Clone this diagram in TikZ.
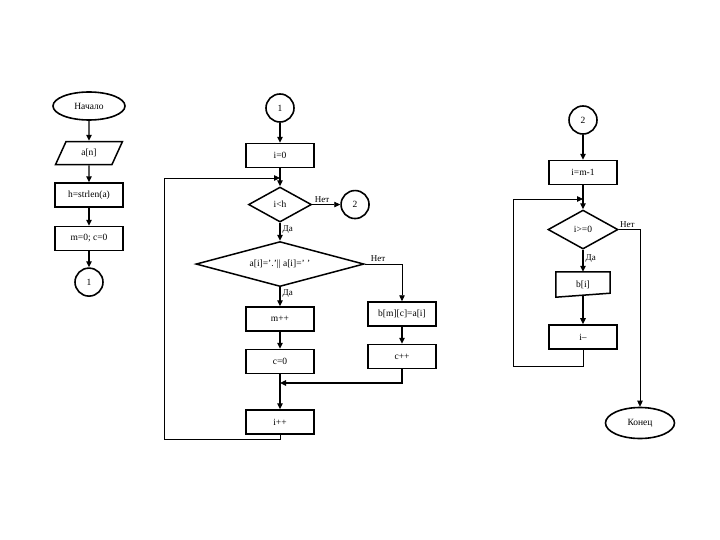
\documentclass[tikz,border=0pt]{standalone}
\usepackage{fontspec}
\setmainfont{Liberation Serif}
\usetikzlibrary{arrows.meta, positioning, shapes.geometric}

\begin{document}
\begin{tikzpicture}[
    x=1pt, y=-1pt,
    font=\fontsize{9.5}{11}\selectfont,
    term/.style={ellipse, draw, line width=1.6pt, minimum width=72pt, minimum height=28pt, inner sep=0pt},
    io/.style={trapezium, trapezium left angle=66, trapezium right angle=114, trapezium stretches=true,
               draw, line width=1.5pt, minimum width=67pt, minimum height=23pt, inner sep=0pt},
    proc/.style={rectangle, draw, line width=1.5pt, minimum width=68pt, minimum height=24pt},
    test/.style={diamond, aspect=1.8, draw, line width=1.5pt, minimum width=63pt, minimum height=35pt, inner sep=0pt},
    conn/.style={circle, draw, line width=1.6pt, minimum size=28pt, inner sep=0pt},
    docbox/.style={rectangle, minimum width=54pt, minimum height=25pt},
    arr/.style={-{Triangle[length=6pt, width=5.5pt]}, line width=1.3pt},
    flow/.style={-{Triangle[length=6pt, width=5.5pt]}, line width=0.8pt},
    lbl/.style={font=\fontsize{9}{10}\selectfont, inner sep=2pt},
]
\useasboundingbox (0,0) rectangle (720,540);

% first part
\node[term] (start) at (89,106) {Начало};
\node[io, below=20pt of start] (inA) {a[n]};
\node[proc, below=17pt of inA] (strlen) {h=strlen(a)};
\node[proc, below=18pt of strlen] (init) {m=0; c=0};
\node[conn, below=16pt of init] (conA) {1};

\foreach \a/\b in {start/inA, inA/strlen, strlen/init, init/conA}
    \draw[arr] (\a) -- (\b);

% second part
\node[conn] (conB) at (280,108) {1};
\node[proc, below=20pt of conB] (setI) {i=0};
\node[test, below=18pt of setI] (testI) {i<h};
\node[conn, right=28pt of testI] (conC) {2};
\node[test, below=18pt of testI, aspect=3.7, minimum width=168pt, minimum height=45pt] (testA) {a[i]=’.’|| a[i]=’ ’};
\node[proc, below=19pt of testA] (incM) {m++};
\node[proc, below=17pt of incM] (setC) {c=0};
\node[proc, below=35pt of setC] (incJ) {i++};
\node[proc] (store) at (402,314) {b[m][c]=a[i]};
\node[proc, below=17pt of store] (incC) {c++};

\coordinate (loopB) at (280,178);
\coordinate (backB) at (164,439);
\coordinate (join) at (280,383);

\foreach \a/\b in {conB/setI, setI/testI, incM/setC, setC/incJ, store/incC}
    \draw[arr] (\a) -- (\b);
\draw[flow] (testI) -- node[lbl, above, pos=0.35] {Нет} (conC);
\draw[arr] (testI) -- node[lbl, right, pos=0.4] {Да} (testA);
\draw[arr] (testA) -- node[lbl, right, pos=0.35] {Да} (incM);
\draw[flow] (testA.east) -| node[lbl, above, pos=0.18] {Нет} (store.north);
\draw[arr] (incC.south) |- (join);
\draw[flow] (incJ.south) |- (backB) |- (loopB);

% third part
\node[conn] (conD) at (583,120) {2};
\node[proc, below=25pt of conD] (setI2) {i=m-1};
\node[test, below=24pt of setI2, minimum width=70pt, minimum height=39pt] (testI2) {i>=0};
\node[docbox, below=22pt of testI2] (showB) {b[i]};
\node[proc, below=27pt of showB] (decI) {i--};
\node[term, minimum width=69pt, minimum height=31pt] (stop) at (640,423) {Конец};

\draw[line width=1.5pt] (showB.north west) -- (showB.north east)
    -- ([yshift=4pt]showB.south east) -- (showB.south west) -- cycle;

\coordinate (loopD) at (583,199);
\coordinate (backD) at (513,366);

\foreach \a/\b in {conD/setI2, setI2/testI2}
    \draw[arr] (\a) -- (\b);
\draw[arr] (testI2) -- node[lbl, right, pos=0.4] {Да} (showB);
\draw[arr] ([yshift=2pt]showB.south) -- (decI);
\draw[flow] (testI2.east) -| node[lbl, above, pos=0.2] {Нет} (stop.north);
\draw[flow] (decI.south) |- (backD) |- (loopD);

\end{tikzpicture}
\end{document}
